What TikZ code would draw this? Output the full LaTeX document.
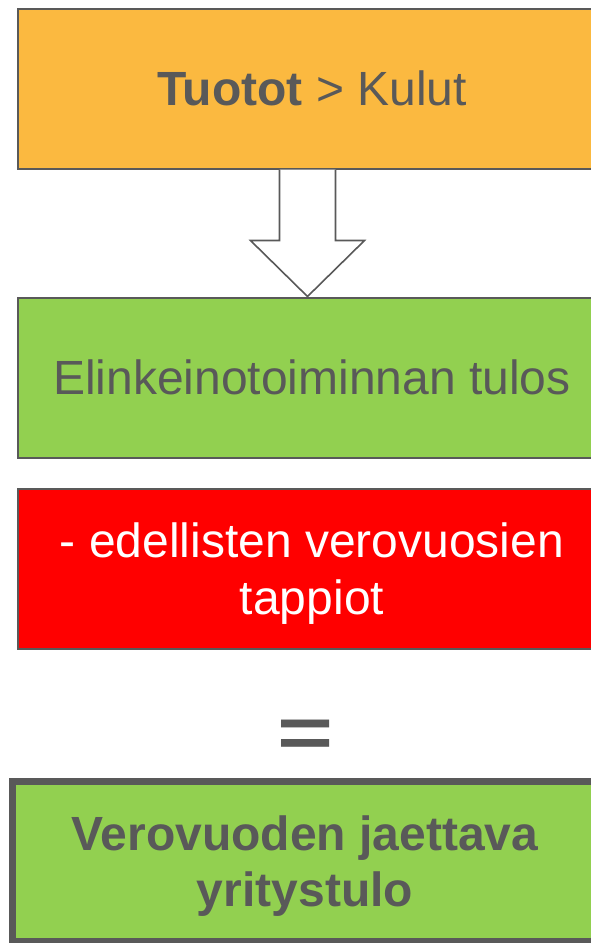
\documentclass[tikz,border=0pt]{standalone}
\usepackage{fontspec}
\setmainfont{Liberation Sans}
\usepackage{tikz}
\usetikzlibrary{positioning}
\usetikzlibrary{calc}

\definecolor{textgray}{HTML}{595959}
\definecolor{boxorange}{HTML}{FBB940}
\definecolor{boxgreen}{HTML}{92D050}
\definecolor{boxred}{HTML}{FF0000}

\tikzset{
  stepbox/.style={draw=textgray, line width=2pt, minimum width=588pt, minimum height=160pt,
    inner sep=0pt, align=center, text=textgray, text depth=0pt, font=\fontsize{48}{57}\selectfont},
  hollowarrow/.style={draw=textgray, fill=white, line width=1.6pt, line join=miter},
}

\begin{document}
\begin{tikzpicture}[x=1pt, y=1pt]
  \useasboundingbox (0,0) rectangle (590,-943);
  \node[stepbox, fill=boxorange] (tuotot) at (312,-88.5) {\textbf{Tuotot} > Kulut};
  \node[stepbox, fill=boxgreen] (tulos) at (312,-377.5) {Elinkeinotoiminnan tulos};
  \node[stepbox, fill=boxred, text=white] (tappiot) at (312,-569) {- edellisten verovuosien\\tappiot};
  \node[text=textgray, inner sep=0pt, font=\fontsize{96}{96}\selectfont\bfseries] (equals) at (305.8,-738.5) {\scalebox{1}[0.75]{=}};
  \node[stepbox, fill=boxgreen, line width=7pt, minimum width=585pt, minimum height=160pt,
    text depth=-5pt, font=\fontsize{48}{56}\selectfont\bfseries] (jaettava) at (305,-861.5) {Verovuoden jaettava\\yritystulo};
  % block arrow from tuotot down to tulos
  \coordinate (tip) at ($(tulos.north)+(-4.5,0)$);
  \draw[hollowarrow] ($(tip)+(-28,127)$) -- ($(tip)+(-28,56)$) -- ($(tip)+(-57,56)$) -- (tip)
    -- ($(tip)+(57,56)$) -- ($(tip)+(28,56)$) -- ($(tip)+(28,127)$);
\end{tikzpicture}
\end{document}
